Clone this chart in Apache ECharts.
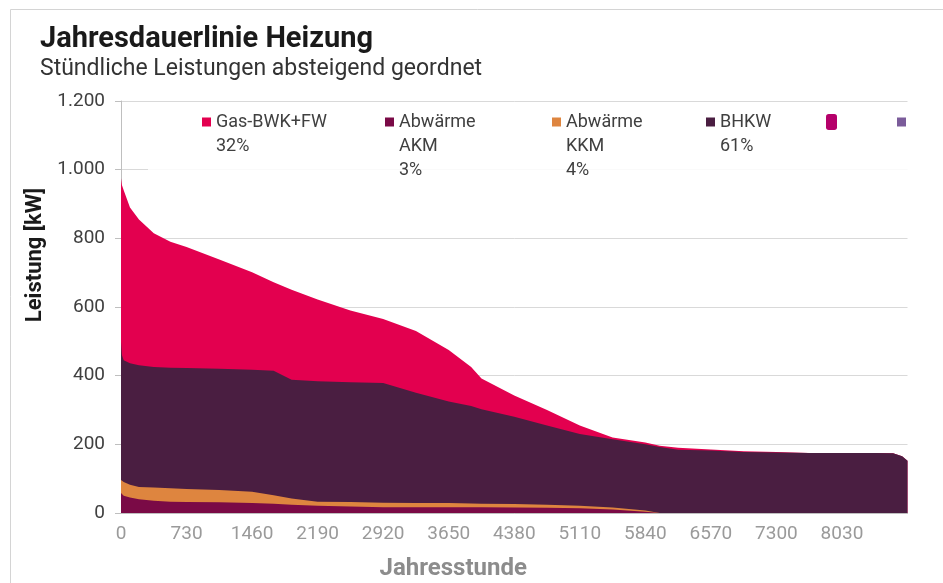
<!DOCTYPE html>
<html>
<head>
<meta charset="utf-8">
<script src="https://cdn.jsdelivr.net/npm/echarts@6/dist/echarts.min.js"></script>
<style>
  html, body { margin: 0; padding: 0; background: #fff; }
  #main { width: 943px; height: 583px; }
</style>
</head>
<body>
<div id="main"></div>
<script>
// Jahresstunden (Stützstellen der Dauerlinie)
const stunden = [0, 10, 30, 100, 200, 365, 550, 730, 1095, 1460, 1700, 1900, 2190, 2555, 2920, 3285, 3650, 3900, 4015, 4380, 4745, 5110, 5475, 5840, 6000, 6205, 6570, 6935, 7300, 7665, 8030, 8395, 8600, 8700, 8760]
// Leistungen je Erzeuger in kW (von unten nach oben)
const abwaermeAKM = [58, 54, 50, 45, 40, 36, 33, 32, 31, 29, 27, 24, 21, 19, 17, 17, 17, 17, 17, 16, 15, 14, 10, 4, 0, 0, 0, 0, 0, 0, 0, 0, 0, 0, 0]
const abwaermeKKM = [38, 39, 40, 37, 36, 38, 39, 38, 36, 33, 25, 18, 12, 13, 13, 12, 12, 11, 10, 10, 9, 7, 6, 3, 0, 0, 0, 0, 0, 0, 0, 0, 0, 0, 0]
const bhkw = [402, 367, 355, 354, 354, 351, 351, 352, 353, 355, 362, 346, 351, 349, 349, 321, 296, 284, 275, 254, 231, 209, 199, 193, 192, 184, 182, 178, 176, 175, 175, 175, 174, 165, 152]
const gasBWK = [477, 495, 495, 454, 425, 390, 367, 353, 318, 284, 258, 262, 238, 209, 186, 180, 150, 113, 90, 62, 45, 25, 5, 5, 4, 6, 3, 2, 2, 0, 0, 0, 0, 0, 0]

// Legendentexte (führende Leerzeilen, damit die erste Zeile neben dem Symbol steht)
const nb = '\u00a0'
const legendTexte = {
  'Gas-BWK+FW': nb + '\nGas-BWK+FW\n32%',
  'Abwärme AKM': nb + '\n' + nb + '\nAbwärme\nAKM\n3%',
  'Abwärme KKM': nb + '\n' + nb + '\nAbwärme\nKKM\n4%',
  'BHKW': nb + '\nBHKW\n61%',
  'leer1': '',
  'leer2': ''
}

// gestapelte Obergrenzen
const sum = (a, b) => a.map((v, i) => v + b[i])
const obenAKM = abwaermeAKM
const obenKKM = sum(obenAKM, abwaermeKKM)
const obenBHKW = sum(obenKKM, bhkw)
const obenGas = sum(obenBHKW, gasBWK)

const toPairs = arr => arr.map((v, i) => [stunden[i], v])

function legendItem(name, left, top, extra) {
  return Object.assign({
    data: [name],
    left: left,
    top: top,
    padding: 0,
    icon: 'rect',
    itemWidth: 9,
    itemHeight: 9,
    itemGap: 0,
    selectedMode: false,
    formatter: n => legendTexte[n],
    textStyle: {
      fontFamily: 'Roboto',
      fontSize: 18,
      color: '#404040',
      lineHeight: 24
    }
  }, extra || {})
}

function serie(name, data, color) {
  return {
    name: name,
    type: 'line',
    symbol: 'none',
    data: toPairs(data),
    lineStyle: { width: 0 },
    itemStyle: { color: color },
    areaStyle: { color: color, opacity: 1 }
  }
}

const chart = echarts.init(document.getElementById('main'))
const option = {
  animation: false,
  backgroundColor: '#fff',
  title: {
    text: 'Jahresdauerlinie Heizung',
    subtext: 'Stündliche Leistungen absteigend geordnet',
    left: 35,
    top: 20,
    itemGap: 4,
    textStyle: { fontFamily: 'Roboto', fontWeight: 'bold', fontSize: 29, color: '#1a1a1a' },
    subtextStyle: { fontFamily: 'Roboto', fontSize: 23, color: '#333' }
  },
  graphic: [
    {
      type: 'rect',
      z: 0,
      shape: { x: 10.5, y: 9.5, width: 1000, height: 1000 },
      style: { fill: 'none', stroke: '#d4d4d4', lineWidth: 1 },
      silent: true
    },
    {
      type: 'rect',
      z: 1,
      shape: { x: 148, y: 104, width: 760, height: 74 },
      style: { fill: 'rgba(255,255,255,0.85)' },
      silent: true
    }
  ],
  legend: [
    legendItem('Gas-BWK+FW', 202, 86),
    legendItem('Abwärme AKM', 385, 62),
    legendItem('Abwärme KKM', 552, 62),
    legendItem('BHKW', 706, 86),
    legendItem('leer1', 826, 114, { itemWidth: 11, itemHeight: 16, icon: 'roundRect' }),
    legendItem('leer2', 897, 117.5)
  ],
  grid: { left: 121, right: 35.5, top: 101, bottom: 70, outerBoundsMode: 'none', containLabel: false },
  xAxis: {
    type: 'value',
    min: 0,
    max: 8760,
    interval: 730,
    name: 'Jahresstunde',
    nameLocation: 'middle',
    nameGap: 44,
    nameTextStyle: { fontFamily: 'Roboto', fontWeight: 'bold', fontSize: 24, color: '#8c8c8c', padding: [0, 122, 0, 0] },
    axisLine: { show: true, lineStyle: { color: '#bfbfbf' } },
    axisTick: { show: false },
    splitLine: { show: false },
    axisLabel: {
      showMaxLabel: false,
      margin: 12,
      fontFamily: 'Roboto',
      fontSize: 19,
      color: '#9a9a9a',
      formatter: v => String(v)
    }
  },
  yAxis: {
    type: 'value',
    min: 0,
    max: 1200,
    interval: 200,
    name: 'Leistung [kW]',
    nameLocation: 'middle',
    nameGap: 73,
    nameTextStyle: { fontFamily: 'Roboto', fontWeight: 'bold', fontSize: 22, color: '#1a1a1a', padding: [0, 0, 0, 104] },
    axisLine: { show: true, lineStyle: { color: '#bfbfbf' } },
    axisTick: { show: true, inside: false, length: 6, lineStyle: { color: '#bfbfbf' } },
    splitLine: { show: true, lineStyle: { color: '#d9d9d9' } },
    axisLabel: {
      margin: 16,
      fontFamily: 'Roboto',
      fontSize: 19,
      color: '#404040',
      formatter: v => String(v).replace(/\B(?=(\d{3})+(?!\d))/g, '.')
    }
  },
  series: [
    serie('Gas-BWK+FW', obenGas, '#e3004f'),
    serie('BHKW', obenBHKW, '#4a1e41'),
    serie('Abwärme KKM', obenKKM, '#de853f'),
    serie('Abwärme AKM', obenAKM, '#7a0a46'),
    { name: 'leer1', type: 'line', data: [], itemStyle: { color: '#b5006a' } },
    { name: 'leer2', type: 'line', data: [], itemStyle: { color: '#7b5c9a' } }
  ]
}
chart.setOption(option)
</script>
</body>
</html>
